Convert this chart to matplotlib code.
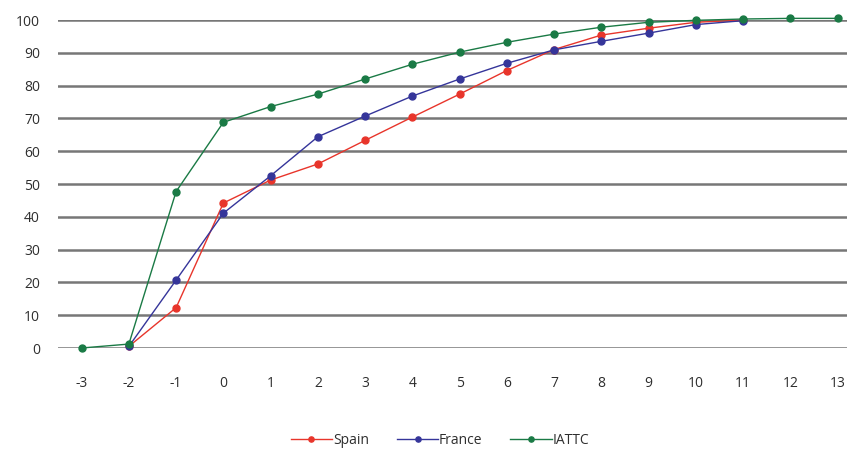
import numpy as np
from matplotlib import pyplot as plt

plt.rcParams["font.family"] = ["Open Sans", "DejaVu Sans"]
plt.rcParams["axes.unicode_minus"] = False

weeks = [-3, -2, -1, 0, 1, 2, 3, 4, 5, 6, 7, 8, 9, 10, 11, 12, 13]
nan = np.nan
spain = [nan, 0.5, 12.3, 44.2, 51.2, 56.1, 63.3, 70.4, 77.4, 84.6, 91.0, 95.4, 97.5, 99.3, 100, nan, nan]
france = [nan, 0.5, 20.7, 41.1, 52.5, 64.4, 70.7, 76.8, 82.0, 86.8, 90.9, 93.5, 96.0, 98.6, 99.8, nan, nan]
iattc = [0, 1.2, 47.7, 68.8, 73.6, 77.4, 82.0, 86.5, 90.2, 93.2, 95.7, 97.8, 99.3, 99.9, 100.3, 100.5, 100.5]
yticks = list(range(0, 101, 10))

fig = plt.figure(figsize=(8.47, 4.53), dpi=100)
ax = fig.add_axes([58 / 847, 105 / 453, 789 / 847, 328 / 453])

for y in yticks:
    ax.axhline(y, color="#777777", linewidth=1.8, zorder=1)

series = [
    ("Spain", spain, "#e8352b"),
    ("France", france, "#35359a"),
    ("IATTC", iattc, "#1a7a45"),
]
for name, vals, col in series:
    ax.plot(weeks, vals, color=col, linewidth=1.0, marker="o", markersize=5,
            label=name, clip_on=False, zorder=3)

ax.set_xlim(-3.5, 13.2)
ax.set_ylim(0, 100)
ax.set_xticks(weeks)
ax.set_yticks(yticks)
for s in ax.spines.values():
    s.set_visible(False)
ax.tick_params(axis="both", length=0, labelsize=10, labelcolor="#2e2e2e")
ax.tick_params(axis="x", pad=20)
ax.tick_params(axis="y", pad=13)

fig.legend(loc="center", bbox_to_anchor=(440 / 847, 1 - 440 / 453), ncol=3,
           frameon=False, fontsize=10, handlelength=3.0, handletextpad=0.05,
           columnspacing=2.0, markerscale=0.75, labelcolor="#2e2e2e")

fig.savefig("out.png", dpi=100)
